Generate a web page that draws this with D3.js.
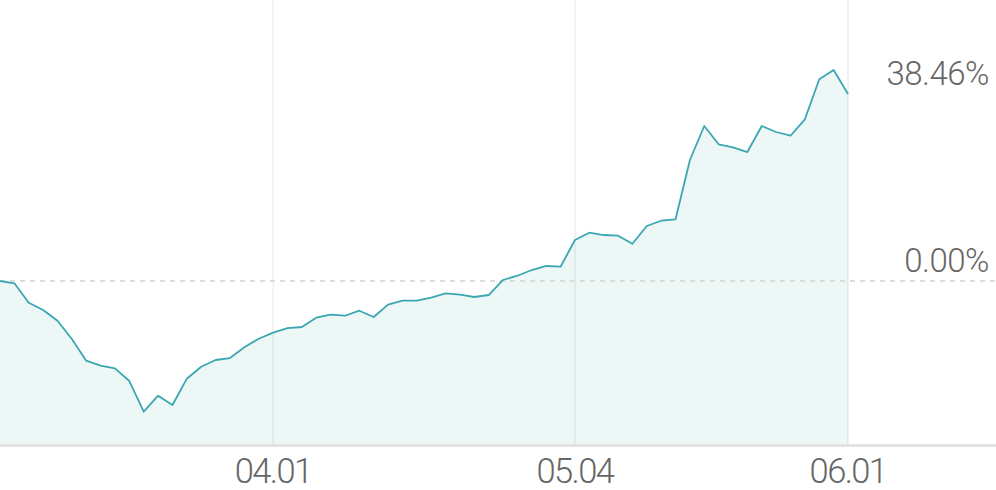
<!DOCTYPE html>
<html>
<head>
<meta charset="utf-8">
<script src="https://cdn.jsdelivr.net/npm/d3@7"></script>
<style>
  html, body { margin: 0; padding: 0; background: #fff; }
  svg { display: block; font-family: Roboto, "Noto Sans", sans-serif; }
  .label { fill: #666; font-weight: 300; }
  .xlabel { font-size: 34.5px; letter-spacing: -1.6px; }
  .ylabel { font-size: 33px; letter-spacing: -0.5px; }
</style>
</head>
<body>
<div id="chart"></div>
<script>
// return (%) per trading day
var returns = [
  0.00, -0.47, -4.46, -5.96, -8.17, -11.93, -16.39, -17.42, -17.96, -20.57,
  -26.88, -23.59, -25.50, -20.09, -17.63, -16.25, -15.84, -13.64, -11.87, -10.63,
  -9.67, -9.46, -7.55, -6.93, -7.14, -6.11, -7.40, -4.87, -4.05, -4.05,
  -3.43, -2.53, -2.82, -3.29, -2.88, 0.21, 1.09, 2.26, 3.09, 2.94,
  8.43, 9.93, 9.46, 9.32, 7.67, 11.31, 12.40, 12.69, 24.89, 31.88,
  28.12, 27.50, 26.53, 31.88, 30.65, 29.88, 33.26, 41.49, 43.40, 38.46
];

// x tick positions (index into returns) and their labels
var tickIndex = [19, 40, 59];
var tickLabels = ["04.01", "05.04", "06.01"];

// y reference lines: zero and the last value
var refValues = [0, 38.46];
var refLabels = ["0.00%", "38.46%"];

var svgWidth = 996;
var svgHeight = 490;
var plotRight = 848;
var plotBottom = 445;

var svg = d3.select("#chart").append("svg")
  .attr("width", svgWidth)
  .attr("height", svgHeight);

var xScale = d3.scaleLinear()
  .domain([0, returns.length - 1])
  .range([0, plotRight]);

var yScale = d3.scaleLinear()
  .domain([-33.73, 57.8])
  .range([plotBottom, 0]);

// area fill under the line
var area = d3.area()
  .x((d, i) => xScale(i))
  .y0(plotBottom)
  .y1(d => yScale(d));

svg.append("path")
  .datum(returns)
  .attr("d", area)
  .attr("fill", "#edf7f6");

// vertical grid lines at ticks
svg.append("g").selectAll("line")
  .data(tickIndex)
  .enter()
  .append("line")
  .attr("x1", d => xScale(d))
  .attr("x2", d => xScale(d))
  .attr("y1", 0)
  .attr("y2", plotBottom)
  .attr("stroke", "#000")
  .attr("stroke-opacity", 0.05)
  .attr("stroke-width", 2);

// dashed zero line
svg.append("line")
  .attr("x1", 0)
  .attr("x2", svgWidth)
  .attr("y1", yScale(0))
  .attr("y2", yScale(0))
  .attr("stroke", "#dcdcdc")
  .attr("stroke-width", 2)
  .attr("stroke-dasharray", "5,5");

// the return line
var line = d3.line()
  .x((d, i) => xScale(i))
  .y(d => yScale(d));

svg.append("path")
  .datum(returns)
  .attr("d", line)
  .attr("fill", "none")
  .attr("stroke", "#3aa7b2")
  .attr("stroke-width", 1.8)
  .attr("stroke-linejoin", "round");

// bottom axis line
svg.append("line")
  .attr("x1", 0)
  .attr("x2", svgWidth)
  .attr("y1", plotBottom + 0.5)
  .attr("y2", plotBottom + 0.5)
  .attr("stroke", "#e3e3e3")
  .attr("stroke-width", 3);

// x labels
svg.append("g").selectAll("text")
  .data(tickIndex)
  .enter()
  .append("text")
  .attr("class", "label xlabel")
  .attr("x", d => xScale(d))
  .attr("y", 482.5)
  .attr("text-anchor", "middle")
  .text((d, i) => tickLabels[i]);

// y labels, right side above their level
svg.append("g").selectAll("text")
  .data(refValues)
  .enter()
  .append("text")
  .attr("class", "label ylabel")
  .attr("x", 989)
  .attr("y", d => yScale(d) - 9.5)
  .attr("text-anchor", "end")
  .text((d, i) => refLabels[i]);
</script>
</body>
</html>
